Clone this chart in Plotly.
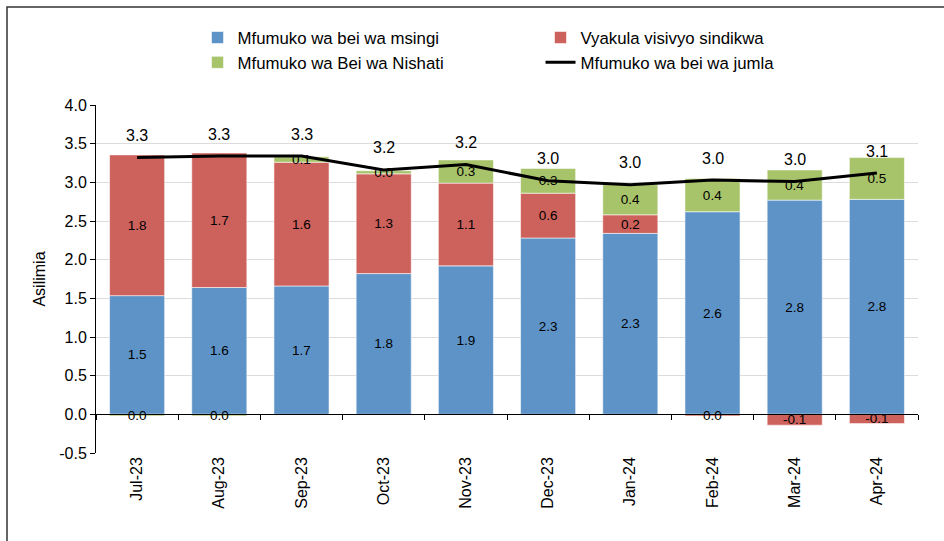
import plotly.graph_objects as go

months = ["Jul-23", "Aug-23", "Sep-23", "Oct-23", "Nov-23", "Dec-23",
          "Jan-24", "Feb-24", "Mar-24", "Apr-24"]
core = [1.535, 1.64, 1.66, 1.82, 1.92, 2.28, 2.34, 2.62, 2.77, 2.78]
food = [1.82, 1.74, 1.60, 1.29, 1.07, 0.58, 0.24, -0.02, -0.14, -0.12]
energy = [-0.02, -0.02, 0.07, 0.04, 0.30, 0.32, 0.39, 0.43, 0.39, 0.54]
headline = [3.32, 3.34, 3.34, 3.16, 3.23, 3.02, 2.97, 3.03, 3.01, 3.12]
y_ticks = [-0.5, 0.0, 0.5, 1.0, 1.5, 2.0, 2.5, 3.0, 3.5, 4.0]


def lab(v):
    s = f"{v:.1f}"
    return "0.0" if s == "-0.0" else s


FONT = "Liberation Sans, Arial, Helvetica, sans-serif"
BLUE = "#5e93c7"
RED = "#cd615b"
GREEN = "#a8c46a"
EDGE = dict(color="rgba(255,255,255,0.7)", width=0.8)
SEGFONT = dict(color="black", size=13.5, family=FONT)

fig = go.Figure()
fig.add_bar(x=months, y=core, name="Mfumuko wa bei wa msingi",
            marker=dict(color=BLUE, line=EDGE),
            text=[lab(v) for v in core], textposition="inside",
            insidetextanchor="middle", textangle=0, textfont=SEGFONT)
fig.add_bar(x=months, y=food, name="Vyakula visivyo sindikwa",
            marker=dict(color=RED, line=EDGE),
            text=[lab(v) for v in food], textposition="inside",
            insidetextanchor="middle", textangle=0, textfont=SEGFONT)
fig.add_bar(x=months, y=energy, name="Mfumuko wa Bei wa Nishati",
            marker=dict(color=GREEN, line=EDGE),
            text=[lab(v) for v in energy], textposition="inside",
            insidetextanchor="middle", textangle=0, textfont=SEGFONT)
fig.add_scatter(x=months, y=headline, name="Mfumuko wa bei wa jumla",
                mode="lines", line=dict(color="black", width=3))
# helper trace for the category axis drawn on the zero line
fig.add_scatter(x=months, y=[None] * len(months), xaxis="x2", yaxis="y",
                showlegend=False, hoverinfo="skip", mode="lines")

for m, h in zip(months, headline):
    fig.add_annotation(x=m, y=h, text=lab(h), showarrow=False, yshift=22,
                       font=dict(size=16, color="black", family=FONT))

ymin, ymax = -0.5, 4.0
fig.update_layout(
    width=944, height=541,
    margin=dict(l=96, r=26, t=105, b=88, autoexpand=False),
    paper_bgcolor="white", plot_bgcolor="white",
    barmode="relative", bargap=0.33,
    font=dict(family=FONT, size=16, color="black"),
    showlegend=True,
    legend=dict(orientation="h", x=0.1235, xanchor="left", y=1.244, yanchor="top",
                entrywidth=298, entrywidthmode="pixels", traceorder="normal",
                font=dict(size=16.8, family=FONT), itemwidth=30,
                tracegroupgap=0, bgcolor="rgba(0,0,0,0)"),
    uniformtext=dict(mode="show", minsize=13),
    xaxis=dict(type="category", showline=False, ticks="", showgrid=False,
               tickangle=-90, tickfont=dict(size=16, family=FONT),
               categoryorder="array", categoryarray=months),
    xaxis2=dict(overlaying="x", matches="x", anchor="free",
                position=(0 - ymin) / (ymax - ymin),
                showline=True, linecolor="black", linewidth=1,
                ticks="outside", ticklen=5, tickcolor="black",
                tickson="boundaries", showticklabels=False, showgrid=False),
    yaxis=dict(range=[ymin, ymax], tickvals=y_ticks,
               ticktext=[lab(v) for v in y_ticks],
               showgrid=True, gridcolor="#dcdcdc", gridwidth=1,
               zeroline=False, showline=True, linecolor="black", linewidth=1,
               ticks="outside", ticklen=5, tickcolor="black",
               tickfont=dict(size=16, family=FONT),
               title=dict(text="Asilimia", font=dict(size=16, family=FONT), standoff=9)),
    shapes=[dict(type="rect", xref="paper", yref="paper",
                 x0=(7 - 96) / 822, x1=(960 - 96) / 822,
                 y0=-(560 - 453) / 348, y1=1 + (105 - 7) / 348,
                 line=dict(color="#333333", width=1.5), layer="below")],
)

fig.write_html("out.html", config={"displayModeBar": False},
               post_script="document.body.style.margin='0';document.body.style.padding='0';")
